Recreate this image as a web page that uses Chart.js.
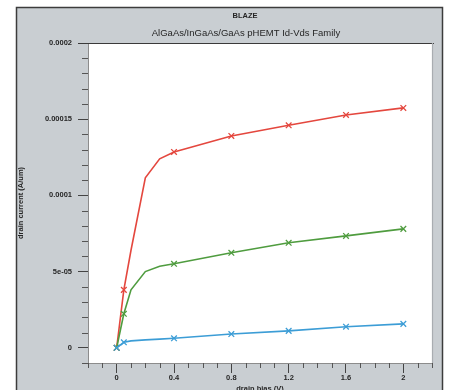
<!DOCTYPE html>
<html>
<head>
<meta charset="utf-8">
<title>BLAZE Id-Vds Family</title>
<script src="https://cdn.jsdelivr.net/npm/chart.js@4.4.1/dist/chart.umd.min.js"></script>
<style>
  html, body { margin: 0; padding: 0; background: #fff; }
  canvas { display: block; }
</style>
</head>
<body>
<canvas id="idvds" width="449" height="390"></canvas>
<script>
// drain bias sweep (V)
const vds = [0, 0.05, 0.1, 0.2, 0.3, 0.4, 0.8, 1.2, 1.6, 2];
// sweep points drawn with a marker
const markedVds = [0, 0.05, 0.4, 0.8, 1.2, 1.6, 2];

// drain current (A/um), one curve per gate bias
const idHigh = [0, 38e-6, 64e-6, 111.5e-6, 124e-6, 128.5e-6, 139e-6, 146e-6, 152.8e-6, 157.4e-6];
const idMid = [0, 22.3e-6, 38e-6, 50e-6, 53.5e-6, 55.1e-6, 62.3e-6, 68.9e-6, 73.4e-6, 78e-6];
const idLow = [0, 3.6e-6, 4.5e-6, 5.2e-6, 5.7e-6, 6.2e-6, 9e-6, 11.1e-6, 13.8e-6, 15.7e-6];

const xTicks = [0, 0.4, 0.8, 1.2, 1.6, 2];
const xTickLabels = ["0", "0.4", "0.8", "1.2", "1.6", "2"];
const yTicks = [0, 5e-5, 1e-4, 1.5e-4, 2e-4];
const yTickLabels = ["0", "5e-05", "0.0001", "0.00015", "0.0002"];

const FONT = "'Liberation Sans', Arial, sans-serif";
const INK = "#262626";

// gray panel behind the plot, white plot area
const panel = {
  id: "panel",
  beforeDraw(chart) {
    const { ctx, chartArea: a } = chart;
    ctx.save();
    ctx.fillStyle = "#c9ced2";
    ctx.fillRect(16, 7, 427, 390);
    ctx.strokeStyle = "#3c3c3c";
    ctx.lineWidth = 1.5;
    ctx.strokeRect(16.5, 7.5, 426, 390);
    ctx.fillStyle = "#fff";
    ctx.fillRect(a.left, a.top, a.right - a.left, a.bottom - a.top);
    ctx.restore();
  },
  afterDraw(chart) {
    const { ctx, chartArea: a } = chart;
    ctx.save();
    // dark top edge, light right edge
    ctx.strokeStyle = "#3a3a3a";
    ctx.lineWidth = 1.2;
    ctx.beginPath();
    ctx.moveTo(a.left - 10, a.top + 0.5);
    ctx.lineTo(a.right + 2, a.top + 0.5);
    ctx.stroke();
    ctx.strokeStyle = "#a9adb1";
    ctx.beginPath();
    ctx.moveTo(a.right + 0.5, a.top);
    ctx.lineTo(a.right + 0.5, a.bottom);
    ctx.stroke();

    // plot headings
    ctx.fillStyle = INK;
    ctx.textAlign = "center";
    ctx.textBaseline = "middle";
    ctx.font = "bold 7.5px " + FONT;
    ctx.fillText("BLAZE", 245, 16);
    ctx.font = "9.5px " + FONT;
    ctx.fillText("AlGaAs/InGaAs/GaAs pHEMT Id-Vds Family", 246, 33);
    ctx.restore();
  }
};

// four minor ticks between each pair of major ticks
const minorTicks = {
  id: "minorTicks",
  afterDraw(chart) {
    const { ctx } = chart;
    const xs = chart.scales.x, ys = chart.scales.y;
    ctx.save();
    ctx.strokeStyle = "#555";
    ctx.lineWidth = 1;
    ctx.beginPath();
    const xStep = (xTicks[1] - xTicks[0]) / 4;
    for (let k = Math.ceil(xs.min / xStep - 1e-6); k * xStep <= xs.max + 1e-9; k++) {
      if (k % 4 === 0) continue;
      const px = Math.round(xs.getPixelForValue(k * xStep)) + 0.5;
      ctx.moveTo(px, xs.top);
      ctx.lineTo(px, xs.top + 5);
    }
    const yStep = (yTicks[1] - yTicks[0]) / 5;
    for (let k = Math.ceil(ys.min / yStep - 1e-6); k * yStep <= ys.max + 1e-12; k++) {
      if (k % 5 === 0) continue;
      const py = Math.round(ys.getPixelForValue(k * yStep)) + 0.5;
      ctx.moveTo(ys.right - 6, py);
      ctx.lineTo(ys.right, py);
    }
    ctx.stroke();
    ctx.restore();
  }
};

const marker = (ctx) => (markedVds.includes(vds[ctx.dataIndex]) ? 4 : 0);

function curve(values, color) {
  return {
    data: vds.map((v, i) => ({ x: v, y: values[i] })),
    borderColor: color,
    backgroundColor: color,
    borderWidth: 1.6,
    pointStyle: "crossRot",
    pointRadius: marker,
    pointBorderWidth: 1.3,
    pointHoverRadius: marker,
    tension: 0
  };
}

const labelFont = { family: FONT, size: 7.5, weight: "bold" };

new Chart(document.getElementById("idvds"), {
  type: "line",
  data: {
    datasets: [
      curve(idLow, "#3c9dd6"),
      curve(idMid, "#4f9c3f"),
      curve(idHigh, "#e4473e")
    ]
  },
  options: {
    responsive: false,
    animation: false,
    layout: { padding: { left: 0, top: 43, right: 17, bottom: 0 } },
    plugins: {
      legend: { display: false },
      tooltip: { enabled: false }
    },
    scales: {
      x: {
        type: "linear",
        min: -0.2,
        max: 2.2,
        afterBuildTicks: (axis) => { axis.ticks = xTicks.map((v) => ({ value: v })); },
        afterFit: (axis) => { axis.height = 27; },
        ticks: {
          autoSkip: false,
          maxRotation: 0,
          padding: 0,
          color: INK,
          font: labelFont,
          callback: (v, i) => xTickLabels[i]
        },
        grid: { drawOnChartArea: false, tickLength: 10, tickColor: "#444" },
        border: { color: "#8c8c8c" },
        title: {
          display: true,
          text: "drain bias (V)",
          color: INK,
          font: labelFont,
          padding: { top: 0, bottom: -3 }
        }
      },
      y: {
        type: "linear",
        min: -1e-5,
        max: 2e-4,
        afterBuildTicks: (axis) => { axis.ticks = yTicks.map((v) => ({ value: v })); },
        afterFit: (axis) => { axis.width = 88; },
        ticks: {
          autoSkip: false,
          padding: 6,
          color: INK,
          font: labelFont,
          callback: (v, i) => yTickLabels[i]
        },
        grid: { drawOnChartArea: false, tickLength: 10, tickColor: "#444" },
        border: { color: "#8c8c8c" },
        title: {
          display: true,
          text: "drain current (A/um)",
          color: INK,
          font: labelFont,
          padding: { top: 16, bottom: 0 }
        }
      }
    }
  },
  plugins: [panel, minorTicks]
});
</script>
</body>
</html>
